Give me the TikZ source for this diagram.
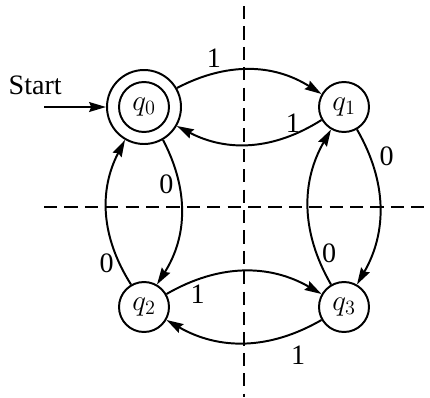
\documentclass[tikz,border=0pt]{standalone}
\usepackage{fontspec}
\setmainfont{Liberation Serif}
\usetikzlibrary{arrows.meta, positioning, calc}

\begin{document}
\begin{tikzpicture}[
  state/.style={
    circle, draw, line width=1.4pt,
    minimum size=1.25cm, inner sep=0pt,
    font=\fontsize{22}{26}\selectfont
  },
  final/.style={
    state, minimum size=1.85cm,
    path picture={\draw[line width=1.4pt] (path picture bounding box.center) circle (0.625cm);}
  },
  move/.style={->, line width=1.4pt, bend left=30},
  sym/.style={font=\fontsize{20}{24}\selectfont},
  axis/.style={line width=1.3pt, dash pattern=on 0.33cm off 0.18cm},
  >={Stealth[length=12pt, width=7pt, inset=1.5pt]},
  node distance=5cm and 5cm, on grid
]

\useasboundingbox (0,0) rectangle (10.75,-9.925);

\node[final] (q0) at (3.6,-2.675) {$q_0$};
\node[state, right=of q0] (q1) {$q_1$};
\node[state, below=of q0] (q2) {$q_2$};
\node[state, right=of q2] (q3) {$q_3$};

\coordinate (mid) at ($(q0)!0.5!(q3)$);
\coordinate (vtop) at ($(mid)+(0,5.025)$);
\coordinate (vbot) at ($(mid)+(0,-4.75)$);
\coordinate (hleft) at ($(mid)+(-5,0)$);
\coordinate (hright) at ($(mid)+(4.65,0)$);

\draw[axis] (vtop) -- (vbot);
\draw[axis] (hleft) -- (hright);

\coordinate[left=1.55cm of q0.west] (entry);
\node[sym, anchor=south east, inner sep=0pt] (start) at ($(q0.west)+(-1.1cm,0.3cm)$) {Start};
\draw[->, line width=1.4pt] (entry) -- (q0.west);

\draw[move] (q0) to node[sym, pos=0.25, above] (l01) {1} (q1);
\draw[move] (q1) to node[sym, pos=0.2, above, inner sep=1pt] (l10) {1} (q0);
\draw[move] (q0) to node[sym, pos=0.3, left] (l02) {0} (q2);
\draw[move] (q2) to node[sym, pos=0.15, left] (l20) {0} (q0);
\draw[move] (q1) to node[sym, pos=0.17, right=3pt] (l13) {0} (q3);
\draw[move] (q3) to node[sym, pos=0.2, right] (l31) {0} (q1);
\draw[move] (q2) to node[sym, pos=0.2, below] (l23) {1} (q3);
\draw[move] (q3) to node[sym, pos=0.15, below=6pt] (l32) {1} (q2);

\end{tikzpicture}
\end{document}
